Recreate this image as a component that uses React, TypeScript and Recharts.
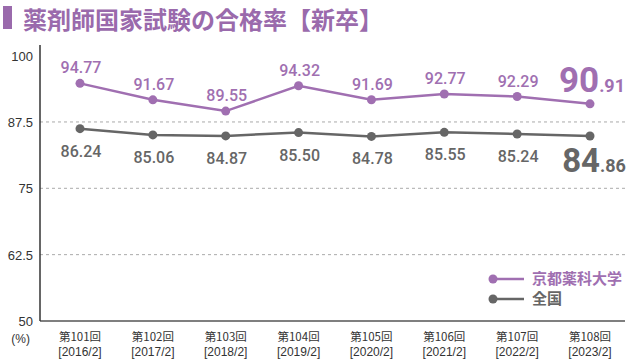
import React from "react";
import {
  LineChart,
  Line,
  XAxis,
  YAxis,
  ReferenceLine,
  LabelList,
} from "recharts";

const exams = ["第101回", "第102回", "第103回", "第104回", "第105回", "第106回", "第107回", "第108回"];
const years = ["[2016/2]", "[2017/2]", "[2018/2]", "[2019/2]", "[2020/2]", "[2021/2]", "[2022/2]", "[2023/2]"];
const kyoto = [94.77, 91.67, 89.55, 94.32, 91.69, 92.77, 92.29, 90.91];
const national = [86.24, 85.06, 84.87, 85.5, 84.78, 85.55, 85.24, 84.86];
const yTicks = [50, 62.5, 75, 87.5, 100];
const gridLines = [62.5, 75, 87.5];
const seriesNames = ["京都薬科大学", "全国"];

const PURPLE = "#a06fb1";
const GRAY = "#666666";
const TITLE = "#9a6aac";

const data = exams.map((e, i) => ({
  exam: e,
  year: years[i],
  kyoto: kyoto[i],
  national: national[i],
}));

const NUM_FONT = "Roboto, 'DejaVu Sans', sans-serif";
const last = data.length - 1;

const split = (v: number) => {
  const s = v.toFixed(2);
  const [a, b] = s.split(".");
  return [a, "." + b];
};

const PurpleLabel = (props: any) => {
  const { x, y, value, index } = props;
  if (index === last) {
    const [a, b] = split(value);
    return (
      <text x={x + 2} y={y - 12} textAnchor="middle" fill={PURPLE} fontFamily={NUM_FONT} fontWeight={700}>
        <tspan fontSize={35}>{a}</tspan>
        <tspan fontSize={18}>{b}</tspan>
      </text>
    );
  }
  return (
    <text x={x + 1} y={y - 10} textAnchor="middle" fill={PURPLE} fontFamily={NUM_FONT} fontWeight={500} fontSize={16}>
      {value.toFixed(2)}
    </text>
  );
};

const GrayLabel = (props: any) => {
  const { x, y, value, index } = props;
  if (index === last) {
    const [a, b] = split(value);
    return (
      <text x={x + 4} y={y + 36} textAnchor="middle" fill={GRAY} fontFamily={NUM_FONT} fontWeight={700}>
        <tspan fontSize={33}>{a}</tspan>
        <tspan fontSize={18}>{b}</tspan>
      </text>
    );
  }
  return (
    <text x={x + 1} y={y + 28} textAnchor="middle" fill={GRAY} fontFamily={NUM_FONT} fontWeight={500} fontSize={16}>
      {value.toFixed(2)}
    </text>
  );
};

const XTick = (props: any) => {
  const { x, y, payload, index } = props;
  return (
    <g>
      <text x={x} y={y + 12} textAnchor="middle" fill="#333" fontSize={11.5} fontFamily="'Noto Sans CJK JP', sans-serif">
        {payload.value}
      </text>
      <text x={x} y={y + 26.5} textAnchor="middle" fill="#333" fontSize={12} fontFamily="'Liberation Sans', Arial, sans-serif">
        {years[index]}
      </text>
    </g>
  );
};

const YTick = (props: any) => {
  const { x, y, payload } = props;
  return (
    <g>
      <text x={x + 1} y={y + 5} textAnchor="end" fill="#333" fontSize={13} fontFamily="'Liberation Sans', Arial, sans-serif">
        {payload.value}
      </text>
      {payload.value === 50 ? (
        <text x={x - 2} y={y + 22} textAnchor="end" fill="#333" fontSize={12} fontFamily="'Liberation Sans', Arial, sans-serif">
          (%)
        </text>
      ) : null}
    </g>
  );
};

const LegendBox = () => {
  const colors = [PURPLE, GRAY];
  return (
    <svg width={145} height={42} style={{ position: "absolute", left: 485, top: 270, overflow: "visible" }}>
      {seriesNames.map((name, i) => (
        <g key={name}>
          <line x1={8} x2={39} y1={9 + i * 20} y2={9 + i * 20} stroke={colors[i]} strokeWidth={2.5} />
          <circle cx={8} cy={9 + i * 20} r={4.5} fill={colors[i]} />
          <text
            x={47}
            y={14 + i * 20}
            fill={colors[i]}
            fontSize={15}
            fontWeight={700}
            fontFamily="'Noto Sans CJK JP', sans-serif"
          >
            {name}
          </text>
        </g>
      ))}
    </svg>
  );
};

export default function App() {
  return (
    <div style={{ position: "absolute", left: 0, top: 0, width: 630, height: 360, background: "#fff" }}>
      <div style={{ position: "absolute", left: 3, top: 6, width: 9, height: 23, background: TITLE }} />
      <div
        style={{
          position: "absolute",
          left: 23,
          top: 3,
          fontSize: 24,
          lineHeight: "32px",
          fontWeight: 700,
          color: TITLE,
          fontFamily: "'Noto Sans CJK JP', sans-serif",
          whiteSpace: "nowrap",
        }}
      >
        薬剤師国家試験の合格率【新卒】
      </div>
      <LineChart width={630} height={360} data={data} margin={{ top: 45, right: 5, bottom: 0, left: 0 }}>
        {gridLines.map((g) => (
          <ReferenceLine key={g} y={g} stroke="#aaa" strokeDasharray="3 3" strokeWidth={1} />
        ))}
        <XAxis
          dataKey="exam"
          height={39}
          padding={{ left: 40, right: 35 }}
          tickLine={false}
          axisLine={{ stroke: "#555", strokeWidth: 1.5 }}
          tick={<XTick />}
          interval={0}
        />
        <YAxis
          width={40}
          domain={[50, 102]}
          ticks={yTicks}
          allowDataOverflow
          tickLine={false}
          axisLine={{ stroke: "#333", strokeWidth: 1.5 }}
          tick={<YTick />}
          interval={0}
        />
        <Line
          dataKey="kyoto"
          name={seriesNames[0]}
          stroke={PURPLE}
          strokeWidth={2.5}
          dot={{ r: 4.5, fill: PURPLE, stroke: PURPLE, strokeWidth: 0 }}
          isAnimationActive={false}
        >
          <LabelList dataKey="kyoto" content={<PurpleLabel />} />
        </Line>
        <Line
          dataKey="national"
          name={seriesNames[1]}
          stroke={GRAY}
          strokeWidth={2.5}
          dot={{ r: 4.5, fill: GRAY, stroke: GRAY, strokeWidth: 0 }}
          isAnimationActive={false}
        >
          <LabelList dataKey="national" content={<GrayLabel />} />
        </Line>
      </LineChart>
      <LegendBox />
    </div>
  );
}
